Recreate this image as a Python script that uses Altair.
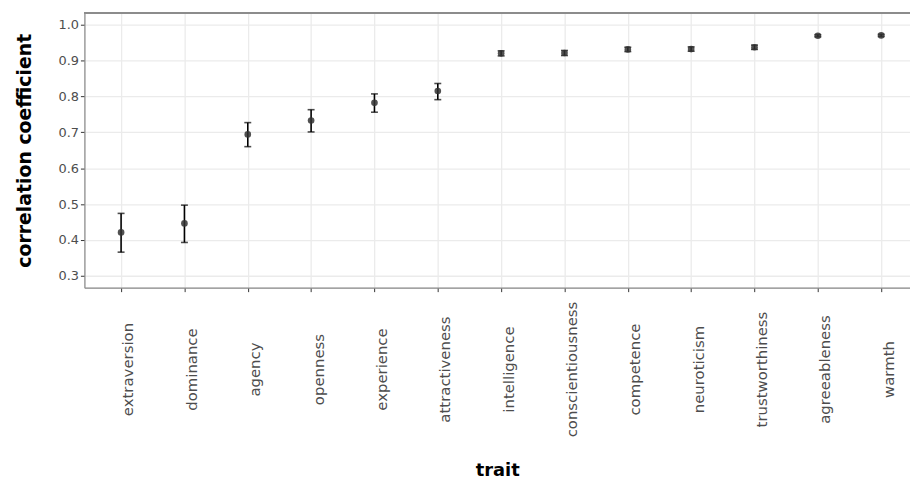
import altair as alt
import pandas as pd

traits = ["extraversion", "dominance", "agency", "openness", "experience",
          "attractiveness", "intelligence", "conscientiousness", "competence",
          "neuroticism", "trustworthiness", "agreeableness", "warmth"]
r_vals = [0.421, 0.446, 0.694, 0.733, 0.782, 0.815, 0.920, 0.921, 0.931,
          0.932, 0.937, 0.969, 0.970]
lo_vals = [0.366, 0.393, 0.660, 0.701, 0.756, 0.791, 0.913, 0.914, 0.925,
           0.926, 0.931, 0.966, 0.967]
hi_vals = [0.474, 0.497, 0.727, 0.763, 0.807, 0.836, 0.927, 0.928, 0.937,
           0.938, 0.943, 0.972, 0.973]
y_ticks = [0.3, 0.4, 0.5, 0.6, 0.7, 0.8, 0.9, 1.0]

df = pd.DataFrame({"trait": traits, "r": r_vals, "lo": lo_vals, "hi": hi_vals})

W, H = 832, 277
FONT = "DejaVu Sans"

xscale = alt.Scale(type="point", domain=traits, padding=0.517, align=0.56)
yscale = alt.Scale(domain=[0.267, 1.033], nice=False, zero=False)

x_axis = alt.Axis(
    title="trait", grid=True, labelAngle=270, labelAlign="center",
    labelBaseline="top", labelPadding=78, tickSize=4, tickColor="#333333",
    domainColor="#8c8c8c", domainWidth=1.2, labelFontSize=15,
    labelColor="#4d4d4d", labelFont=FONT, labelOverlap=False, labelLimit=0,
    gridColor="#ebebeb", gridWidth=1.3, titleFont=FONT, titleFontSize=18,
    titleFontWeight="bold", titleColor="black", titleY=184,
    titleBaseline="middle")

y_axis = alt.Axis(
    title="correlation coefficient", values=y_ticks, format=".1f", tickSize=4,
    tickColor="#333333", domainColor="#8c8c8c", domainWidth=1.2,
    labelFontSize=13, labelColor="#4d4d4d", labelFont=FONT, labelPadding=2,
    labelOverlap=False, labelFlush=False,
    gridColor="#ebebeb", gridWidth=1.3, titleFont=FONT, titleFontSize=19,
    titleFontWeight="bold", titleColor="black", titleX=-60,
    titleBaseline="middle")


def xe():
    return alt.X("trait:N", scale=xscale, sort=traits, axis=x_axis)


def ye(field):
    return alt.Y(field, scale=yscale, axis=y_axis)


base = alt.Chart(df)

bars = base.mark_rule(color="black", strokeWidth=1.6).encode(
    x=xe(), y=ye("lo:Q"), y2="hi:Q")

cap_lo = base.mark_tick(color="black", size=7, thickness=1.6,
                        orient="horizontal").encode(x=xe(), y=ye("lo:Q"))
cap_hi = base.mark_tick(color="black", size=7, thickness=1.6,
                        orient="horizontal").encode(x=xe(), y=ye("hi:Q"))

pts = base.mark_circle(color="#333333", opacity=0.85, size=45).encode(
    x=xe(), y=ye("r:Q"))

top_border = alt.Chart(df).mark_rule(color="#8c8c8c", strokeWidth=1.5).encode(
    x=alt.value(0), x2=alt.value(W + 5), y=alt.value(0))

chart = alt.layer(bars, cap_lo, cap_hi, pts, top_border).properties(
    width=W, height=H,
    autosize=alt.AutoSizeParams(type="none"),
    padding={"left": 77, "top": 3, "right": 0, "bottom": 195},
).configure_view(stroke=None).configure(background="white")

chart.save("out.html", embed_options={"renderer": "svg", "actions": False})
